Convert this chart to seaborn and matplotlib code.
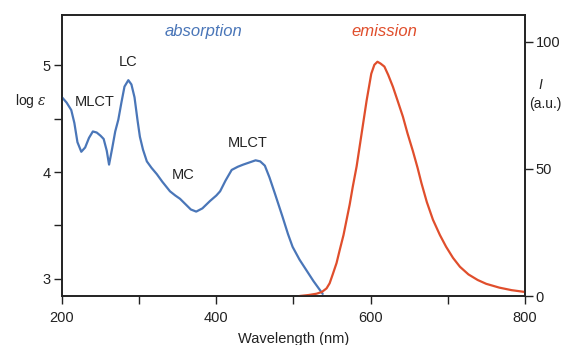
import pandas as pd
import matplotlib
matplotlib.use("Agg")
import matplotlib.pyplot as plt
import seaborn as sns
from matplotlib.ticker import MultipleLocator

# absorption spectrum (log eps vs wavelength)
abs_nm = [200, 206, 212, 216, 220, 225, 230, 235, 240, 245, 250, 254, 258, 261,
          265, 269, 273, 277, 281, 286, 290, 294, 298, 301, 305, 310, 316, 323,
          330, 340, 347, 353, 360, 367, 374, 382, 392, 400, 405, 412, 420, 428,
          435, 443, 451, 457, 463, 469, 476, 486, 493, 499, 508, 517, 526, 534, 538]
abs_loge = [4.70, 4.65, 4.58, 4.46, 4.28, 4.19, 4.23, 4.32, 4.38, 4.37, 4.34, 4.31,
            4.20, 4.07, 4.22, 4.38, 4.49, 4.65, 4.80, 4.86, 4.82, 4.70, 4.48, 4.33,
            4.21, 4.10, 4.04, 3.98, 3.91, 3.82, 3.78, 3.75, 3.70, 3.65, 3.63, 3.66,
            3.73, 3.78, 3.82, 3.92, 4.02, 4.05, 4.07, 4.09, 4.11, 4.10, 4.06, 3.95,
            3.80, 3.58, 3.42, 3.30, 3.18, 3.08, 2.98, 2.90, 2.86]

# emission spectrum (intensity a.u.)
em_nm = [508, 520, 530, 537, 543, 547, 551, 556, 560, 565, 569, 573, 577, 582,
         586, 590, 595, 601, 605, 609, 613, 618, 623, 629, 635, 642, 648, 655,
         661, 666, 673, 681, 690, 698, 707, 716, 727, 739, 750, 767, 783, 800]
em_int = [0.0, 0.4, 0.9, 1.6, 3, 5, 8.5, 13, 18, 24, 30, 36, 43, 51,
          59, 67, 77, 87.5, 91, 92.2, 91.5, 90.3, 87, 82.4, 77, 70.6, 64, 57,
          50.5, 44.5, 37, 30, 24, 19.4, 15, 11.5, 8.5, 6.3, 4.8, 3.3, 2.3, 1.6]

band_labels = ["MLCT", "LC", "MC", "MLCT"]
band_pos = [(243, 4.66), (285, 5.03), (357, 3.97), (441, 4.27)]

blue = "#4a76b8"
red = "#e04e2c"

df_abs = pd.DataFrame({"nm": abs_nm, "loge": abs_loge})
df_em = pd.DataFrame({"nm": em_nm, "I": em_int})

sns.set_style("ticks")
plt.rcParams["font.family"] = ["Liberation Sans", "DejaVu Sans"]
plt.rcParams["mathtext.fontset"] = "dejavuserif"

fig = plt.figure(figsize=(5.71, 3.45), dpi=100)
ax = fig.add_axes([0.1086, 0.142, 0.8104, 0.8145])
ax2 = ax.twinx()

sns.lineplot(data=df_abs, x="nm", y="loge", ax=ax, color=blue, lw=1.6,
             sort=False, zorder=3)
sns.lineplot(data=df_em, x="nm", y="I", ax=ax2, color=red, lw=1.6, sort=False)

ax.set_xlim(200, 800)
ax.set_ylim(2.84, 5.47)
ax2.set_ylim(0, 110.6)

ax.xaxis.set_major_locator(MultipleLocator(200))
ax.xaxis.set_minor_locator(MultipleLocator(100))
ax.yaxis.set_major_locator(MultipleLocator(1))
ax.yaxis.set_minor_locator(MultipleLocator(0.5))
ax2.yaxis.set_major_locator(MultipleLocator(50))

for a in (ax, ax2):
    a.tick_params(which="both", direction="out", length=6, width=1,
                  labelsize=10.5, color="#222222", labelcolor="#222222", pad=2)
    for s in a.spines.values():
        s.set_visible(True)
        s.set_linewidth(1.2)
        s.set_color("#222222")
ax.tick_params(axis="x", pad=5)

ax.set_xlabel("Wavelength (nm)", fontsize=10.5, labelpad=5, color="#222222")
ax.set_ylabel("")
ax2.set_ylabel("")

fig.text(0.053, 0.707, r"log $\varepsilon$", fontsize=10, ha="center",
         va="center", color="#222222")
fig.text(0.947, 0.755, "I", fontsize=10, style="italic", ha="center",
         va="center", color="#222222")
fig.text(0.955, 0.700, "(a.u.)", fontsize=10, ha="center", va="center",
         color="#222222")

ax.text(383, 5.32, "absorption", color=blue, style="italic", fontsize=12,
        ha="center", va="center")
ax2.text(618, 104, "emission", color=red, style="italic", fontsize=12,
         ha="center", va="center")

for lab, (xx, yy) in zip(band_labels, band_pos):
    ax.text(xx, yy, lab, fontsize=10.5, ha="center", va="center",
            color="#222222")

fig.savefig("out.png", dpi=100)
